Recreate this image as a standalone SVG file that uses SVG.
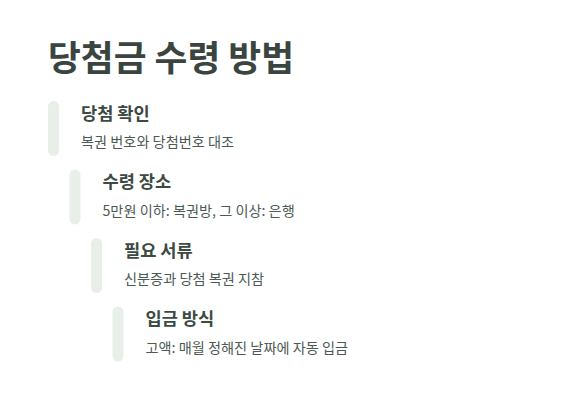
<svg xmlns="http://www.w3.org/2000/svg" width="572" height="411" viewBox="0 0 572 411">
<style>
  .h { font-family: "Noto Sans CJK KR", "Noto Sans", sans-serif; font-weight: 700; font-size: 35.7px; fill: #3a4540; }
  .t { font-family: "Noto Sans CJK KR", "Noto Sans", sans-serif; font-weight: 700; font-size: 17.6px; fill: #3c4a42; }
  .d { font-family: "Noto Sans CJK KR", "Noto Sans", sans-serif; font-weight: 400; font-size: 14.2px; fill: #4d5a53; }
  .bar { fill: #e8efe9; }
</style>
<rect width="572" height="411" fill="#ffffff"/>
<text class="h" x="48" y="71">당첨금 수령 방법</text>
<g id="step1">
  <rect class="bar" x="48" y="101" width="11" height="55" rx="5.5"/>
  <text class="t" x="81" y="119.5">당첨 확인</text>
  <text class="d" x="81" y="147">복권 번호와 당첨번호 대조</text>
</g>
<g id="step2">
  <rect class="bar" x="69.5" y="169.5" width="11" height="55" rx="5.5"/>
  <text class="t" x="102.5" y="188">수령 장소</text>
  <text class="d" x="102.5" y="215.5">5만원 이하: 복권방, 그 이상: 은행</text>
</g>
<g id="step3">
  <rect class="bar" x="91" y="238" width="11" height="55" rx="5.5"/>
  <text class="t" x="124" y="256.5">필요 서류</text>
  <text class="d" x="124" y="284">신분증과 당첨 복권 지참</text>
</g>
<g id="step4">
  <rect class="bar" x="112.5" y="306.5" width="11" height="55" rx="5.5"/>
  <text class="t" x="145.5" y="325">입금 방식</text>
  <text class="d" x="145.5" y="352.5">고액: 매월 정해진 날짜에 자동 입금</text>
</g>
<g id="connectors"></g>
</svg>
